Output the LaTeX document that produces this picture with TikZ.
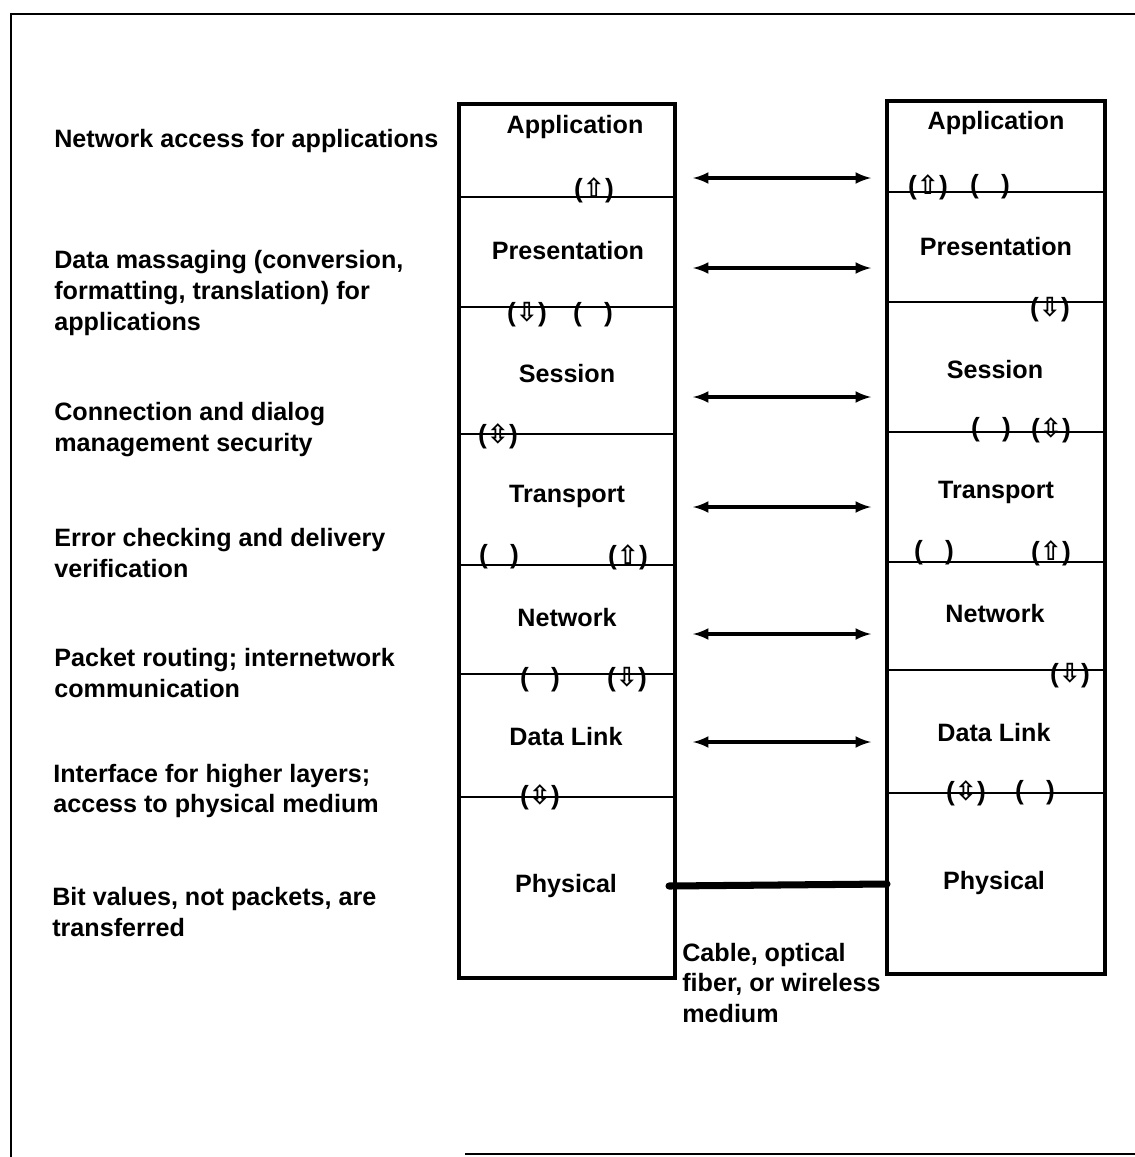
\documentclass[tikz,border=0pt]{standalone}
\usepackage{fontspec}
\setmainfont{Liberation Sans}
\newfontfamily\symfont{DejaVu Sans}
\begin{document}
\begin{tikzpicture}[x=0.02cm,y=-0.02cm]
	\tikzstyle{fleche}=[<->,>=latex,line width=2pt]
	\tikzstyle{cadre}=[line width=1.8pt]
	\tikzstyle{separation}=[line width=1pt]
	\tikzstyle{couche}=[font=\bfseries\fontsize{14.3}{17.6}\selectfont,inner sep=0pt]
	\tikzstyle{role}=[couche,anchor=west,align=left]
	\tikzstyle{prise}=[font=\bfseries\fontsize{15}{15}\selectfont,inner sep=0pt]
	\def\Fl#1{{\symfont\fontsize{15}{15}\selectfont #1}}
	\def\Haut{(\Fl{⇧})}\def\Bas{(\Fl{⇩})}
	\def\Double{(\Fl{⇳})}\def\Vide{(\hphantom{\Fl{⇳}})}
	\useasboundingbox[fill=white] (0,0) rectangle (1135,1157);
	\draw[line width=1.2pt] (11,1157)--(11,14)--(1135,14);
	\draw[line width=1.2pt] (465,1154)--(1135,1154);
	% les deux piles
	\draw[cadre] (459,104) rectangle (675,978);
	\draw[cadre] (887,101) rectangle (1105,974);
	\foreach \y in {197,307,434,565,674,797} \draw[separation] (459,\y)--(675,\y);
	\foreach \y in {192,302,432,562,670,793} \draw[separation] (887,\y)--(1105,\y);
	\node[couche] (AppG) at (575,127) {Application};
	\node[couche] (PreG) at (568,251) {Presentation};
	\node[couche] (SesG) at (567,374) {Session};
	\node[couche] (TraG) at (567,496) {Transport};
	\node[couche] (ResG) at (567,618) {Network};
	\node[couche] (LiaG) at (566,737) {Data Link};
	\node[couche] (PhyG) at (566,886) {Physical};
	\node[couche] (AppD) at (996,123) {Application};
	\node[couche] (PreD) at (996,247) {Presentation};
	\node[couche] (SesD) at (995,370) {Session};
	\node[couche] (TraD) at (996,492) {Transport};
	\node[couche] (ResD) at (995,614) {Network};
	\node[couche] (LiaD) at (994,733) {Data Link};
	\node[couche] (PhyD) at (994,883) {Physical};
	% interfaces
	\node[prise] (iG1) at (594,190) {\Haut};
	\node[prise] (iG2) at (527,315) {\Bas};
	\node[prise] (iG3) at (593,315) {\Vide};
	\node[prise] (iG4) at (498,436) {\Double};
	\node[prise] (iG5) at (499,557) {\Vide};
	\node[prise] (iG6) at (628,557) {\Haut};
	\node[prise] (iG7) at (540,680) {\Vide};
	\node[prise] (iG8) at (627,680) {\Bas};
	\node[prise] (iG9) at (540,797) {\Double};
	\node[prise] (iD1) at (928,187) {\Haut};
	\node[prise] (iD2) at (990,187) {\Vide};
	\node[prise] (iD3) at (1050,310) {\Bas};
	\node[prise] (iD4) at (991,430) {\Vide};
	\node[prise] (iD5) at (1051,430) {\Double};
	\node[prise] (iD6) at (934,553) {\Vide};
	\node[prise] (iD7) at (1051,553) {\Haut};
	\node[prise] (iD8) at (1070,676) {\Bas};
	\node[prise] (iD9) at (966,793) {\Double};
	\node[prise] (iD10) at (1035,793) {\Vide};
	% liaisons entre couches paires
	\foreach \y [count=\i] in {178,268,397,507,634,742} {
		\coordinate (g\i) at (693,\y);\coordinate (d\i) at (871,\y);
		\draw[fleche] (g\i)--(d\i);
	}
	\coordinate (MedG) at (669,886);\coordinate (MedD) at (887,884);
	\draw[line width=4pt,line cap=round] (MedG)--(MedD);
	\node[role] (Med) at (682,983) {Cable, optical\\fiber, or wireless\\medium};
	% roles des couches
	\node[role] (rApp) at (54,141) {Network access for applications};
	\node[role] (rPre) at (54,293) {Data massaging (conversion,\\formatting, translation) for\\applications};
	\node[role] (rSes) at (54,430) {Connection and dialog\\management security};
	\node[role] (rTra) at (54,553) {Error checking and delivery\\verification};
	\node[role] (rRes) at (54,673) {Packet routing; internetwork\\communication};
	\node[role] (rLia) at (53,791) {Interface for higher layers;\\access to physical medium};
	\node[role] (rPhy) at (52,912) {Bit values, not packets, are\\transferred};
\end{tikzpicture}
\end{document}
